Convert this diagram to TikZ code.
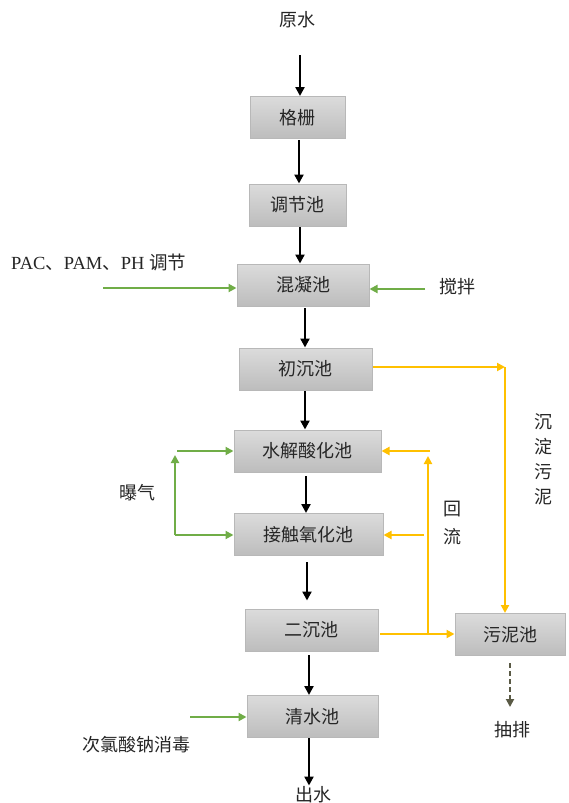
\documentclass[tikz,border=0pt]{standalone}
\usepackage{fontspec}
\setmainfont{Liberation Serif}
\newfontfamily\cjk{Noto Sans CJK SC}
\usetikzlibrary{arrows.meta,calc}
\definecolor{grn}{HTML}{70AD47}
\definecolor{ylw}{HTML}{FFC000}
\definecolor{dsh}{HTML}{5A5A45}
\begin{document}
\begin{tikzpicture}[x=1pt,y=-1pt,
  box/.style={draw=black!28,line width=1pt,top color=black!14,bottom color=black!26,
    minimum height=42pt,inner sep=0pt,font=\cjk\fontsize{18}{18}\selectfont,text=black!85},
  lbl/.style={font=\cjk\fontsize{18}{18}\selectfont,text=black!85,inner sep=1pt},
  vlbl/.style={lbl,align=center},
  blk/.style={line width=2.4pt,-{Triangle[length=9pt,width=9pt]}},
  grnarr/.style={draw=grn,line width=2.2pt,-{Triangle[length=8pt,width=8pt]}},
  ylwarr/.style={draw=ylw,line width=2.2pt,-{Triangle[length=8pt,width=8pt]}},
  dsharr/.style={draw=dsh,line width=1.9pt,dash pattern=on 5pt off 3pt,-{Triangle[length=8pt,width=8pt]}}]
\useasboundingbox (0,0) rectangle (569,803);
\fill[white] (0,0) rectangle (569,803);

% boxes
\node[box,minimum width=95pt]  (gs) at (297.5,117.5) {格栅};
\node[box,minimum width=97pt]  (tj) at (297.5,205)   {调节池};
\node[box,minimum width=132pt] (hn) at (303,285)     {混凝池};
\node[box,minimum width=133pt] (cc) at (305.5,369)   {初沉池};
\node[box,minimum width=147pt] (sj) at (307.5,451)   {水解酸化池};
\node[box,minimum width=149pt] (jc) at (308.5,534.5) {接触氧化池};
\node[box,minimum width=133pt] (ec) at (311.5,630)   {二沉池};
\node[box,minimum width=110pt] (wn) at (510,634.5)   {污泥池};
\node[box,minimum width=131pt] (qs) at (312.5,716.5) {清水池};

% labels
\node[lbl] (ys) at (297,20) {原水};
\node[lbl] (cs) at (313,795) {出水};
\node[lbl,anchor=west,font=\fontsize{18.5}{18.5}\selectfont] (pac) at (10,262) {PAC{\cjk 、}PAM{\cjk 、}PH {\cjk 调节}};
\node[lbl] (jb) at (457,287) {搅拌};
\node[lbl] (bq) at (137,493) {曝气};
\node[lbl] (cl) at (136,745) {次氯酸钠消毒};
\node[lbl] (cp) at (512,730) {抽排};
\node[vlbl] (cd) at (543,459) {沉\\[7pt]淀\\[7pt]污\\[7pt]泥};
\node[vlbl] (hlt) at (452,523) {回\\[10pt]流};

% main flow
\coordinate (a1) at (300,55);
\draw[blk] (a1) -- (a1 |- gs.north);
\coordinate (a2) at (299,140);
\draw[blk] (a2) -- (a2 |- tj.north);
\coordinate (a3) at (300,227);
\draw[blk] (a3) -- (a3 |- hn.north);
\coordinate (a4) at (305,308);
\draw[blk] (a4) -- (a4 |- cc.north);
\coordinate (a5) at (305,391);
\draw[blk] (a5) -- (a5 |- sj.north);
\coordinate (a6) at (306,476);
\draw[blk] (a6) -- (a6 |- jc.north);
\coordinate (a7) at (307,562);
\draw[blk,shorten >=8pt] (a7) -- (a7 |- ec.north);
\coordinate (a8) at (309,655);
\draw[blk] (a8) -- (a8 |- qs.north);
\coordinate (a9) at (309,738);
\draw[blk] (a9) -- (a9 |- cs.north);

% green inputs
\coordinate (pacs) at (103,288);
\draw[grnarr] (pacs) -- (pacs -| hn.west);
\coordinate (jbs) at (425,289);
\draw[grnarr] (jbs) -- (jbs -| hn.east);
\coordinate (aer) at (175,535);
\coordinate (aertop) at (175,455);
\draw[grnarr] (aer) -- (aertop);
\coordinate (aerh) at (177,451);
\draw[grnarr] (aerh) -- (aerh -| sj.west);
\draw[grnarr] (aer) -- (aer -| jc.west);
\coordinate (naclo) at (190,717);
\draw[grnarr] (naclo) -- (naclo -| qs.west);

% yellow sludge / return
\coordinate (yc) at (505,367);
\draw[ylwarr] (cc.east |- yc) -- (yc);
\draw[ylwarr] (yc) -- (yc |- wn.north);
\coordinate (ecy) at (380,634);
\draw[ylwarr] (ecy) -- (ecy -| wn.west);
\coordinate (hl) at (428,634);
\coordinate (hltop) at (428,456);
\draw[ylwarr] (hl) -- (hltop);
\coordinate (r1) at (430,451);
\draw[ylwarr] (r1) -- (r1 -| sj.east);
\coordinate (r2) at (424,535);
\draw[ylwarr] (r2) -- (r2 -| jc.east);

% discharge
\coordinate (d1) at (510,663);
\coordinate (d2) at (510,707);
\draw[dsharr] (d1) -- (d2);
\end{tikzpicture}
\end{document}
